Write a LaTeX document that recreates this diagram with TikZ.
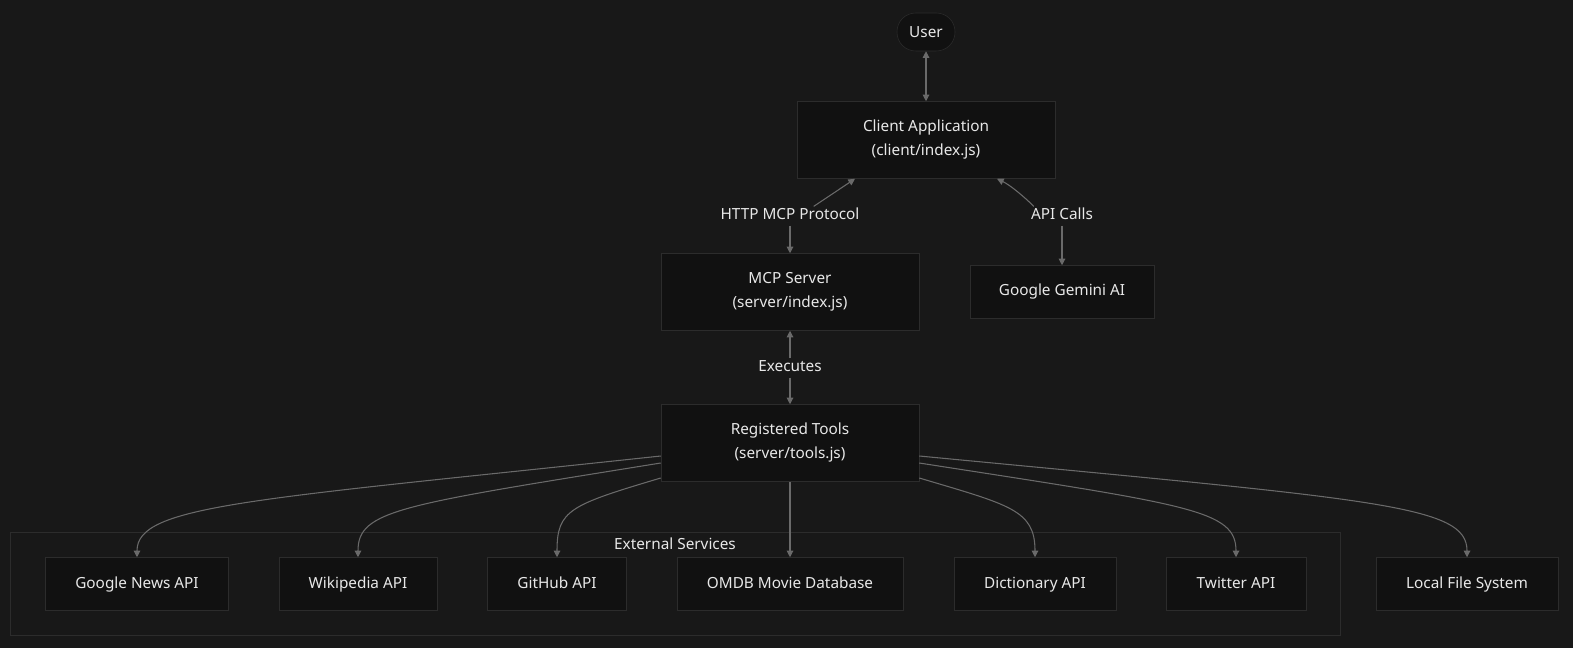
\documentclass[tikz,border=0pt]{standalone}
\usepackage{fontspec}
\setmainfont{Noto Sans}
\usetikzlibrary{arrows.meta, positioning}
\definecolor{bgc}{HTML}{181818}
\definecolor{boxc}{HTML}{111111}
\definecolor{linec}{HTML}{2C2C2C}
\definecolor{edgec}{HTML}{6A6A6A}
\definecolor{txtc}{HTML}{E8E8E8}

\begin{document}
\begin{tikzpicture} [
    x=0.75pt, y=-0.75pt,
    font=\fontsize{11.5pt}{18pt}\selectfont,
    box/.style = {draw=linec, fill=boxc, text=txtc, align=center, inner sep=0pt},
    big box/.style = {box, minimum width=193.5pt, minimum height=57.75pt},
    svc/.style = {box, minimum height=39.75pt, text height=8.5pt, text depth=2.5pt},
    lbl/.style = {fill=bgc, text=txtc, inner sep=1.5pt, text height=8.5pt, text depth=2.5pt},
    link/.style = {draw=edgec, thick, -{Triangle[length=5pt,width=5pt]}},
    dlink/.style = {link, {Triangle[length=5pt,width=5pt]}-{Triangle[length=5pt,width=5pt]}}
]
    \fill[bgc] (0,0) rectangle (1573,648);
    \useasboundingbox (0,0) rectangle (1573,648);

    % cluster
    \draw[linec, fill=bgc] (10,532) rectangle (1340,635);
    \node[text=txtc] (ext) at (675,544) {External Services};

    % top part
    \node[box, rounded corners=14pt, minimum width=43.5pt, minimum height=28.5pt] (user) at (926,32) {User};
    \node[big box] (client) at (926,140) {Client Application\\(client/index.js)};
    \node[big box] (server) at (790,292) {MCP Server\\(server/index.js)};
    \node[svc, minimum width=138pt] (gemini) at (1062,292) {Google Gemini AI};
    \node[big box] (tools) at (790,443) {Registered Tools\\(server/tools.js)};

    % services
    \node[svc, minimum width=137.25pt] (news) at (137,584) {Google News API};
    \node[svc, minimum width=118.5pt] (wiki) at (358,584) {Wikipedia API};
    \node[svc, minimum width=104.25pt] (github) at (557,584) {GitHub API};
    \node[svc, minimum width=169.5pt] (omdb) at (790,584) {OMDB Movie Database};
    \node[svc, minimum width=121.5pt] (dict) at (1035,584) {Dictionary API};
    \node[svc, minimum width=105pt] (twitter) at (1236,584) {Twitter API};
    \node[svc, minimum width=136.5pt] (localfs) at (1467,584) {Local File System};

    % labels on edges
    \node[lbl] (http) at (790,216) {HTTP MCP Protocol};
    \node[lbl] (apic) at (1062,216) {API Calls};
    \node[lbl] (exec) at (790,368) {Executes};

    \draw[dlink] (user) -- (client);
    \draw[link] (http.north east) ++(-48,0) coordinate (h1) -- (client.south west -| 855,0);
    \draw[link] (http.south) ++(0,0) .. controls +(0,8) and (790,240) .. (server.north);
    \draw[link] (apic.north west) ++(5,0) .. controls +(-10,-10) and (1010,185) .. (client.south east -| 997,0);
    \draw[link] (apic.south) .. controls +(0,10) and (1062,250) .. (gemini.north);
    \draw[link] (exec) -- (server);
    \draw[link] (exec) -- (tools);

    % tools to services
    \draw[link] (tools.west |- 0,456) .. controls (250,500) and (137,505) .. (news.north);
    \draw[link] (tools.west |- 0,463) .. controls (400,505) and (358,510) .. (wiki.north);
    \draw[link] (tools.west |- 0,478) .. controls (570,505) and (557,510) .. (github.north);
    \draw[link] (tools) -- (omdb);
    \draw[link] (tools.east |- 0,478) .. controls (1010,505) and (1035,510) .. (dict.north);
    \draw[link] (tools.east |- 0,463) .. controls (1190,505) and (1236,510) .. (twitter.north);
    \draw[link] (tools.east |- 0,456) .. controls (1380,500) and (1467,505) .. (localfs.north);
\end{tikzpicture}
\end{document}
